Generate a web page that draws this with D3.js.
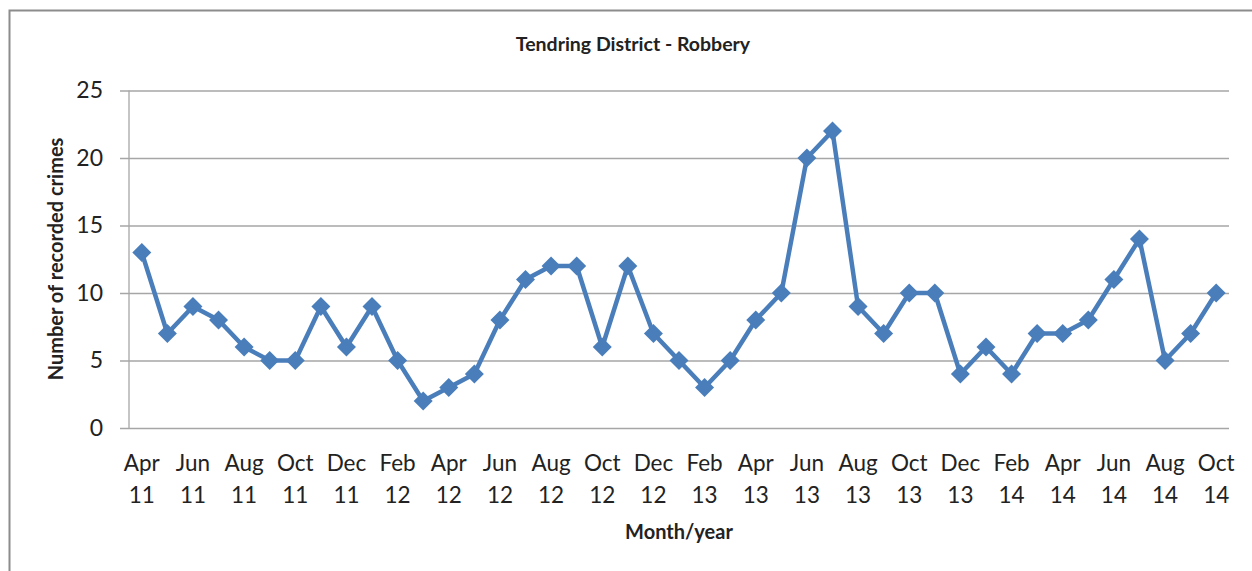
<!DOCTYPE html>
<html>
<head>
<meta charset="utf-8">
<script src="https://cdn.jsdelivr.net/npm/d3@7"></script>
<style>
  body { margin: 0; background: #fff; }
  text { font-family: Lato, "Open Sans", sans-serif; fill: #222; }
</style>
</head>
<body>
<div id="chart"></div>
<script>
// Tendring District - Robbery, monthly recorded crimes Apr 2011 - Oct 2014
const months = ["Apr", "May", "Jun", "Jul", "Aug", "Sep", "Oct", "Nov", "Dec", "Jan", "Feb", "Mar"];
const years = ["11", "12", "13", "14"];
const robbery = [13, 7, 9, 8, 6, 5, 5, 9, 6, 9, 5, 2,
                 3, 4, 8, 11, 12, 12, 6, 12, 7, 5, 3, 5,
                 8, 10, 20, 22, 9, 7, 10, 10, 4, 6, 4, 7,
                 7, 8, 11, 14, 5, 7, 10];
const yTicks = [0, 5, 10, 15, 20, 25];

// build category labels (month + year)
let categories = robbery.map(function (d, i) {
    let m = months[i % 12];
    let y = years[Math.floor((i + 3) / 12)];
    return { month: m, year: y, key: m + " " + y, value: d, idx: i };
});

let svgWidth = 1252;
let svgHeight = 571;

let margin = { top: 90.5, right: 23, bottom: 143, left: 129 };
let width = svgWidth - margin.left - margin.right;
let height = svgHeight - margin.top - margin.bottom;

let svg = d3.select("#chart")
    .append("svg")
    .attr("width", svgWidth)
    .attr("height", svgHeight);

// chart frame
svg.append("rect")
    .attr("x", 9.5)
    .attr("y", 10.5)
    .attr("width", 1300)
    .attr("height", 700)
    .attr("fill", "#fff")
    .attr("stroke", "#8c8c8c")
    .attr("stroke-width", 2);

let chartGroup = svg.append("g")
    .attr("transform", `translate(${margin.left}, ${margin.top})`);

// scales
let xScale = d3.scaleBand()
    .domain(categories.map(d => d.key))
    .range([0, width]);

let yScale = d3.scaleLinear()
    .domain([0, 25])
    .range([height, 0]);

// gridlines + y axis
let leftAxis = d3.axisLeft(yScale)
    .tickValues(yTicks)
    .tickSize(-width)
    .tickSizeOuter(0)
    .tickPadding(26);

let yAxisG = chartGroup.append("g").call(leftAxis);
yAxisG.select(".domain").remove();
yAxisG.selectAll(".tick line")
    .attr("x1", -9)
    .attr("stroke", "#a6a6a6")
    .attr("stroke-width", 1.3);
yAxisG.selectAll(".tick text")
    .style("font-size", "23px")
    .attr("fill", "#222");

// vertical axis line
chartGroup.append("line")
    .attr("x1", 0).attr("x2", 0)
    .attr("y1", 0).attr("y2", height)
    .attr("stroke", "#a6a6a6")
    .attr("stroke-width", 1.3);

// x axis labels (every second month, two lines)
let xLabels = chartGroup.append("g")
    .attr("transform", `translate(0, ${height})`);

let shown = categories.filter(d => d.idx % 2 === 0);
let lab = xLabels.selectAll("text")
    .data(shown)
    .enter()
    .append("text")
    .attr("text-anchor", "middle")
    .attr("y", 43)
    .style("font-size", "22.5px");
lab.append("tspan")
    .attr("x", d => xScale(d.key) + xScale.bandwidth() / 2)
    .text(d => d.month);
lab.append("tspan")
    .attr("x", d => xScale(d.key) + xScale.bandwidth() / 2)
    .attr("dy", 32)
    .text(d => d.year);

// line
let line = d3.line()
    .x(d => xScale(d.key) + xScale.bandwidth() / 2)
    .y(d => yScale(d.value));

chartGroup.append("path")
    .datum(categories)
    .attr("fill", "none")
    .attr("stroke", "#4a7ebb")
    .attr("stroke-width", 4.5)
    .attr("stroke-linejoin", "round")
    .attr("d", line);

// diamond markers
let diamond = d3.symbol().type(d3.symbolDiamond2).size(230);
chartGroup.selectAll(".marker")
    .data(categories)
    .enter()
    .append("path")
    .attr("class", "marker")
    .attr("d", diamond)
    .attr("transform", d => `translate(${xScale(d.key) + xScale.bandwidth() / 2}, ${yScale(d.value)})`)
    .attr("fill", "#4a7ebb");

// title
svg.append("text")
    .attr("x", 633)
    .attr("y", 51)
    .attr("text-anchor", "middle")
    .style("font-size", "19.5px")
    .style("font-weight", "bold")
    .text("Tendring District - Robbery");

// axis titles
svg.append("text")
    .attr("x", 679)
    .attr("y", 539)
    .attr("text-anchor", "middle")
    .style("font-size", "20px")
    .style("font-weight", "bold")
    .text("Month/year");

svg.append("text")
    .attr("transform", "translate(63, 259) rotate(-90)")
    .attr("text-anchor", "middle")
    .style("font-size", "20px")
    .style("font-weight", "bold")
    .text("Number of recorded crimes");
</script>
</body>
</html>
